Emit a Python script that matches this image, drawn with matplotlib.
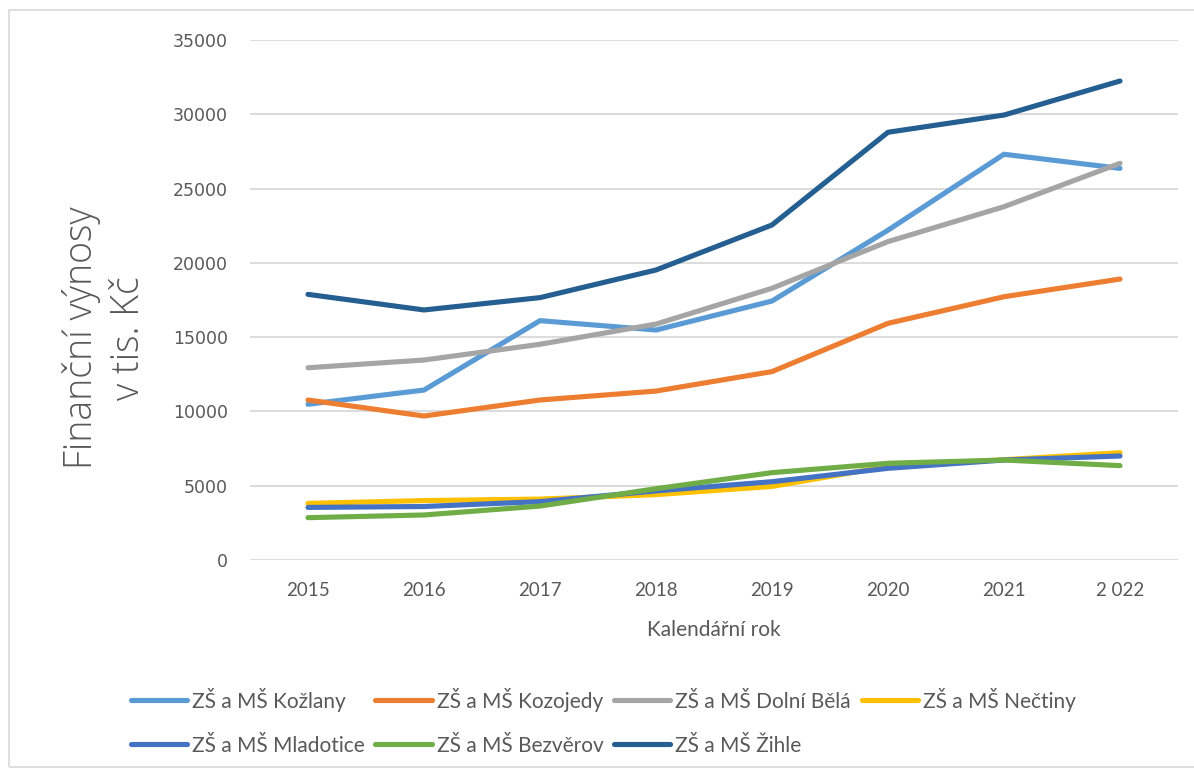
import matplotlib

matplotlib.use("Agg")
import matplotlib.pyplot as plt
from matplotlib.patches import Rectangle

YEARS = ["2015", "2016", "2017", "2018", "2019", "2020", "2021", "2 022"]
SCHOOLS = ["ZŠ a MŠ Kožlany", "ZŠ a MŠ Kozojedy", "ZŠ a MŠ Dolní Bělá", "ZŠ a MŠ Nečtiny",
           "ZŠ a MŠ Mladotice", "ZŠ a MŠ Bezvěrov", "ZŠ a MŠ Žihle"]
kozlany = [10480, 11440, 16110, 15480, 17430, 22200, 27310, 26360]
kozojedy = [10770, 9690, 10770, 11370, 12680, 15930, 17720, 18910]
dolni_bela = [12940, 13460, 14520, 15880, 18290, 21430, 23780, 26700]
nectiny = [3810, 4000, 4100, 4400, 4950, 6300, 6750, 7220]
mladotice = [3540, 3600, 3930, 4650, 5270, 6170, 6730, 7000]
bezverov = [2850, 3030, 3630, 4800, 5880, 6510, 6730, 6350]
zihle = [17880, 16830, 17660, 19520, 22550, 28790, 29950, 32240]
SERIES = [kozlany, kozojedy, dolni_bela, nectiny, mladotice, bezverov, zihle]
COLORS = ["#5B9BD5", "#ED7D31", "#A5A5A5", "#FFC000", "#4472C4", "#70AD47", "#255E91"]

TXT = "#595959"
GRID = "#D9D9D9"

fig = plt.figure(figsize=(11.94, 7.71), dpi=100)
fig.patches.append(Rectangle((9 / 1194, 4 / 771), 1.2, 1 - 14 / 771, transform=fig.transFigure,
                             fill=False, edgecolor=GRID, linewidth=1.2))
ax = fig.add_axes([250 / 1194, 1 - 560 / 771, 928 / 1194, 520 / 771])

x = range(len(YEARS))
lines = []
for name, vals, col in zip(SCHOOLS, SERIES, COLORS):
    ln, = ax.plot(x, vals, color=col, lw=3.7, solid_capstyle="round",
                  solid_joinstyle="round", label=name)
    lines.append(ln)

ax.set_xlim(-0.5, len(YEARS) - 0.5)
ax.set_ylim(0, 35000)
ax.set_yticks(range(0, 35001, 5000))
ax.set_xticks(list(x))
ax.set_xticklabels(YEARS, fontsize=13.5, color=TXT, family="Lato")
ax.tick_params(axis="y", length=0, pad=16, labelsize=12.5, labelcolor=TXT)
ax.tick_params(axis="x", length=0, pad=16)
for s in ax.spines.values():
    s.set_visible(False)
ax.grid(axis="y", color=GRID, lw=1.3)
ax.set_axisbelow(True)

ax.set_xlabel("Kalendářní rok", fontsize=15, color=TXT, labelpad=15, family="Lato")
fig.text(105 / 1194, 1 - 338 / 771, "Finanční výnosy\nv tis. Kč", rotation=90,
         ha="center", va="center", fontsize=27, color=TXT, family="Open Sans",
         fontweight="light", linespacing=1.3)

# matplotlib fills legend columns first, so reorder for row-wise reading
order = [0, 4, 1, 5, 2, 6, 3]
fig.legend([lines[i] for i in order], [SCHOOLS[i] for i in order], ncol=4,
           loc="upper left", bbox_to_anchor=(112 / 1194, 1 - 669 / 771), frameon=False,
           labelcolor=TXT, handlelength=2.7, handletextpad=0.25,
           columnspacing=0.5, labelspacing=1.15, prop={"family": "Lato", "size": 15})

fig.savefig("out.png", dpi=100)
